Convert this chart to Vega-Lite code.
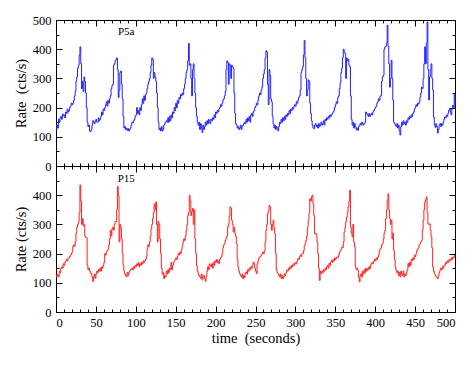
{
"$schema": "https://vega.github.io/schema/vega-lite/v6.json",
"background": "white",
"padding": {"left": 12, "top": 13, "right": 5, "bottom": 5},
"spacing": 0,
"bounds": "flush",
"config": {
 "view": {"stroke": "#000000", "strokeWidth": 1},
 "axis": {"domain": false, "grid": false, "tickColor": "#000000", "tickWidth": 1, "labelColor": "#000000", "titleColor": "#000000", "labelFont": "Liberation Serif", "titleFont": "Liberation Serif", "labelFontSize": 12.5, "titleFontSize": 14.5, "titleFontWeight": "normal"}
},
"data": {"values": [
{"time":0,"P5a":125,"P15":120},{"time":1,"P5a":140,"P15":130},{"time":2,"P5a":130,"P15":125},{"time":3,"P5a":160,"P15":120},{"time":4,"P5a":150,"P15":140},{"time":5,"P5a":165,"P15":135},{"time":6,"P5a":170,"P15":150},{"time":7,"P5a":160,"P15":155},{"time":8,"P5a":178,"P15":150},{"time":9,"P5a":172,"P15":165},
{"time":10,"P5a":175,"P15":160},{"time":11,"P5a":165,"P15":170},{"time":12,"P5a":185,"P15":175},{"time":13,"P5a":180,"P15":180},{"time":14,"P5a":195,"P15":175},{"time":15,"P5a":185,"P15":185},{"time":16,"P5a":190,"P15":185},{"time":17,"P5a":200,"P15":190},{"time":18,"P5a":205,"P15":195},{"time":19,"P5a":215,"P15":200},
{"time":20,"P5a":210,"P15":205},{"time":21,"P5a":215,"P15":225},{"time":22,"P5a":225,"P15":230},{"time":23,"P5a":240,"P15":225},{"time":24,"P5a":255,"P15":240},{"time":25,"P5a":290,"P15":270},{"time":26,"P5a":305,"P15":290},{"time":27,"P5a":335,"P15":300},{"time":28,"P5a":345,"P15":310},{"time":29,"P5a":380,"P15":340},
{"time":30,"P5a":408,"P15":435},{"time":31,"P5a":350,"P15":380},{"time":32,"P5a":265,"P15":300},{"time":33,"P5a":290,"P15":320},{"time":34,"P5a":255,"P15":295},{"time":35,"P5a":305,"P15":300},{"time":36,"P5a":290,"P15":260},{"time":37,"P5a":250,"P15":255},{"time":38,"P5a":200,"P15":255},{"time":39,"P5a":150,"P15":160},
{"time":40,"P5a":135,"P15":145},{"time":41,"P5a":140,"P15":150},{"time":42,"P5a":120,"P15":140},{"time":43,"P5a":118,"P15":135},{"time":44,"P5a":125,"P15":130},{"time":45,"P5a":140,"P15":120},{"time":46,"P5a":155,"P15":105},{"time":47,"P5a":150,"P15":120},{"time":48,"P5a":145,"P15":130},{"time":49,"P5a":155,"P15":115},
{"time":50,"P5a":160,"P15":130},{"time":51,"P5a":150,"P15":140},{"time":52,"P5a":150,"P15":135},{"time":53,"P5a":165,"P15":145},{"time":54,"P5a":155,"P15":140},{"time":55,"P5a":160,"P15":150},{"time":56,"P5a":170,"P15":140},{"time":57,"P5a":185,"P15":155},{"time":58,"P5a":175,"P15":150},{"time":59,"P5a":195,"P15":160},
{"time":60,"P5a":190,"P15":170},{"time":61,"P5a":200,"P15":200},{"time":62,"P5a":210,"P15":195},{"time":63,"P5a":220,"P15":205},{"time":64,"P5a":205,"P15":210},{"time":65,"P5a":225,"P15":215},{"time":66,"P5a":215,"P15":230},{"time":67,"P5a":230,"P15":250},{"time":68,"P5a":240,"P15":280},{"time":69,"P5a":265,"P15":260},
{"time":70,"P5a":275,"P15":285},{"time":71,"P5a":280,"P15":290},{"time":72,"P5a":345,"P15":280},{"time":73,"P5a":350,"P15":300},{"time":74,"P5a":360,"P15":310},{"time":75,"P5a":365,"P15":310},{"time":76,"P5a":370,"P15":350},{"time":77,"P5a":330,"P15":430},{"time":78,"P5a":235,"P15":400},{"time":79,"P5a":260,"P15":240},
{"time":80,"P5a":320,"P15":300},{"time":81,"P5a":325,"P15":290},{"time":82,"P5a":280,"P15":250},{"time":83,"P5a":230,"P15":200},{"time":84,"P5a":170,"P15":160},{"time":85,"P5a":130,"P15":140},{"time":86,"P5a":135,"P15":130},{"time":87,"P5a":125,"P15":125},{"time":88,"P5a":130,"P15":120},{"time":89,"P5a":122,"P15":135},
{"time":90,"P5a":128,"P15":125},{"time":91,"P5a":120,"P15":135},{"time":92,"P5a":125,"P15":140},{"time":93,"P5a":130,"P15":145},{"time":94,"P5a":140,"P15":145},{"time":95,"P5a":150,"P15":150},{"time":96,"P5a":148,"P15":145},{"time":97,"P5a":155,"P15":155},{"time":98,"P5a":160,"P15":150},{"time":99,"P5a":170,"P15":160},
{"time":100,"P5a":175,"P15":155},{"time":101,"P5a":200,"P15":165},{"time":102,"P5a":180,"P15":160},{"time":103,"P5a":190,"P15":170},{"time":104,"P5a":175,"P15":155},{"time":105,"P5a":200,"P15":165},{"time":106,"P5a":190,"P15":160},{"time":107,"P5a":210,"P15":170},{"time":108,"P5a":230,"P15":165},{"time":109,"P5a":215,"P15":175},
{"time":110,"P5a":240,"P15":170},{"time":111,"P5a":225,"P15":175},{"time":112,"P5a":245,"P15":180},{"time":113,"P5a":250,"P15":190},{"time":114,"P5a":265,"P15":215},{"time":115,"P5a":280,"P15":230},{"time":116,"P5a":290,"P15":225},{"time":117,"P5a":300,"P15":240},{"time":118,"P5a":320,"P15":260},{"time":119,"P5a":345,"P15":285},
{"time":120,"P5a":370,"P15":300},{"time":121,"P5a":365,"P15":320},{"time":122,"P5a":300,"P15":340},{"time":123,"P5a":320,"P15":370},{"time":124,"P5a":305,"P15":350},{"time":125,"P5a":290,"P15":377},{"time":126,"P5a":250,"P15":300},{"time":127,"P5a":200,"P15":240},{"time":128,"P5a":150,"P15":310},{"time":129,"P5a":125,"P15":300},
{"time":130,"P5a":130,"P15":250},{"time":131,"P5a":120,"P15":200},{"time":132,"P5a":135,"P15":150},{"time":133,"P5a":120,"P15":130},{"time":134,"P5a":125,"P15":135},{"time":135,"P5a":140,"P15":115},{"time":136,"P5a":145,"P15":125},{"time":137,"P5a":150,"P15":120},{"time":138,"P5a":155,"P15":140},{"time":139,"P5a":150,"P15":130},
{"time":140,"P5a":165,"P15":145},{"time":141,"P5a":150,"P15":135},{"time":142,"P5a":170,"P15":150},{"time":143,"P5a":155,"P15":145},{"time":144,"P5a":175,"P15":170},{"time":145,"P5a":165,"P15":145},{"time":146,"P5a":185,"P15":160},{"time":147,"P5a":180,"P15":170},{"time":148,"P5a":200,"P15":175},{"time":149,"P5a":190,"P15":180},
{"time":150,"P5a":215,"P15":185},{"time":151,"P5a":200,"P15":180},{"time":152,"P5a":225,"P15":190},{"time":153,"P5a":215,"P15":200},{"time":154,"P5a":235,"P15":195},{"time":155,"P5a":230,"P15":205},{"time":156,"P5a":245,"P15":200},{"time":157,"P5a":240,"P15":215},{"time":158,"P5a":250,"P15":225},{"time":159,"P5a":245,"P15":240},
{"time":160,"P5a":265,"P15":250},{"time":161,"P5a":280,"P15":245},{"time":162,"P5a":300,"P15":260},{"time":163,"P5a":320,"P15":280},{"time":164,"P5a":330,"P15":300},{"time":165,"P5a":360,"P15":330},{"time":166,"P5a":420,"P15":340},{"time":167,"P5a":345,"P15":400},{"time":168,"P5a":350,"P15":380},{"time":169,"P5a":300,"P15":330},
{"time":170,"P5a":240,"P15":345},{"time":171,"P5a":330,"P15":355},{"time":172,"P5a":350,"P15":300},{"time":173,"P5a":300,"P15":350},{"time":174,"P5a":250,"P15":250},{"time":175,"P5a":200,"P15":200},{"time":176,"P5a":170,"P15":160},{"time":177,"P5a":150,"P15":140},{"time":178,"P5a":140,"P15":130},{"time":179,"P5a":150,"P15":125},
{"time":180,"P5a":125,"P15":120},{"time":181,"P5a":145,"P15":115},{"time":182,"P5a":130,"P15":130},{"time":183,"P5a":115,"P15":110},{"time":184,"P5a":140,"P15":120},{"time":185,"P5a":125,"P15":125},{"time":186,"P5a":135,"P15":115},{"time":187,"P5a":150,"P15":105},{"time":188,"P5a":140,"P15":120},{"time":189,"P5a":155,"P15":140},
{"time":190,"P5a":145,"P15":155},{"time":191,"P5a":160,"P15":145},{"time":192,"P5a":150,"P15":165},{"time":193,"P5a":145,"P15":160},{"time":194,"P5a":160,"P15":155},{"time":195,"P5a":155,"P15":165},{"time":196,"P5a":165,"P15":150},{"time":197,"P5a":160,"P15":170},{"time":198,"P5a":175,"P15":160},{"time":199,"P5a":165,"P15":175},
{"time":200,"P5a":185,"P15":170},{"time":201,"P5a":180,"P15":180},{"time":202,"P5a":190,"P15":170},{"time":203,"P5a":185,"P15":175},{"time":204,"P5a":195,"P15":165},{"time":205,"P5a":200,"P15":180},{"time":206,"P5a":210,"P15":185},{"time":207,"P5a":205,"P15":190},{"time":208,"P5a":215,"P15":200},{"time":209,"P5a":225,"P15":220},
{"time":210,"P5a":230,"P15":230},{"time":211,"P5a":240,"P15":235},{"time":212,"P5a":255,"P15":245},{"time":213,"P5a":330,"P15":255},{"time":214,"P5a":360,"P15":260},{"time":215,"P5a":355,"P15":290},{"time":216,"P5a":280,"P15":300},{"time":217,"P5a":350,"P15":330},{"time":218,"P5a":345,"P15":360},{"time":219,"P5a":300,"P15":355},
{"time":220,"P5a":345,"P15":314},{"time":221,"P5a":340,"P15":300},{"time":222,"P5a":335,"P15":274},{"time":223,"P5a":250,"P15":290},{"time":224,"P5a":180,"P15":270},{"time":225,"P5a":145,"P15":260},{"time":226,"P5a":140,"P15":234},{"time":227,"P5a":130,"P15":180},{"time":228,"P5a":135,"P15":154},{"time":229,"P5a":125,"P15":140},
{"time":230,"P5a":130,"P15":131},{"time":231,"P5a":140,"P15":125},{"time":232,"P5a":125,"P15":120},{"time":233,"P5a":135,"P15":130},{"time":234,"P5a":140,"P15":114},{"time":235,"P5a":145,"P15":125},{"time":236,"P5a":150,"P15":118},{"time":237,"P5a":145,"P15":135},{"time":238,"P5a":160,"P15":137},{"time":239,"P5a":150,"P15":130},
{"time":240,"P5a":165,"P15":145},{"time":241,"P5a":155,"P15":140},{"time":242,"P5a":170,"P15":150},{"time":243,"P5a":150,"P15":145},{"time":244,"P5a":175,"P15":155},{"time":245,"P5a":180,"P15":150},{"time":246,"P5a":170,"P15":160},{"time":247,"P5a":185,"P15":171},{"time":248,"P5a":190,"P15":165},{"time":249,"P5a":200,"P15":150},
{"time":250,"P5a":205,"P15":140},{"time":251,"P5a":215,"P15":131},{"time":252,"P5a":210,"P15":165},{"time":253,"P5a":225,"P15":175},{"time":254,"P5a":240,"P15":185},{"time":255,"P5a":250,"P15":188},{"time":256,"P5a":245,"P15":190},{"time":257,"P5a":260,"P15":195},{"time":258,"P5a":270,"P15":200},{"time":259,"P5a":300,"P15":205},
{"time":260,"P5a":315,"P15":200},{"time":261,"P5a":330,"P15":210},{"time":262,"P5a":370,"P15":240},{"time":263,"P5a":395,"P15":280},{"time":264,"P5a":390,"P15":300},{"time":265,"P5a":280,"P15":337},{"time":266,"P5a":210,"P15":350},{"time":267,"P5a":330,"P15":365},{"time":268,"P5a":310,"P15":360},{"time":269,"P5a":230,"P15":300},
{"time":270,"P5a":220,"P15":280},{"time":271,"P5a":170,"P15":300},{"time":272,"P5a":145,"P15":314},{"time":273,"P5a":130,"P15":290},{"time":274,"P5a":140,"P15":268},{"time":275,"P5a":125,"P15":200},{"time":276,"P5a":135,"P15":143},{"time":277,"P5a":130,"P15":135},{"time":278,"P5a":120,"P15":131},{"time":279,"P5a":135,"P15":125},
{"time":280,"P5a":150,"P15":120},{"time":281,"P5a":145,"P15":130},{"time":282,"P5a":160,"P15":115},{"time":283,"P5a":150,"P15":125},{"time":284,"P5a":165,"P15":114},{"time":285,"P5a":155,"P15":120},{"time":286,"P5a":170,"P15":130},{"time":287,"P5a":160,"P15":125},{"time":288,"P5a":175,"P15":135},{"time":289,"P5a":170,"P15":143},
{"time":290,"P5a":180,"P15":140},{"time":291,"P5a":175,"P15":150},{"time":292,"P5a":190,"P15":145},{"time":293,"P5a":180,"P15":155},{"time":294,"P5a":195,"P15":150},{"time":295,"P5a":190,"P15":160},{"time":296,"P5a":200,"P15":155},{"time":297,"P5a":195,"P15":165},{"time":298,"P5a":205,"P15":160},{"time":299,"P5a":210,"P15":166},
{"time":300,"P5a":205,"P15":170},{"time":301,"P5a":220,"P15":165},{"time":302,"P5a":215,"P15":175},{"time":303,"P5a":225,"P15":183},{"time":304,"P5a":235,"P15":180},{"time":305,"P5a":240,"P15":190},{"time":306,"P5a":260,"P15":195},{"time":307,"P5a":320,"P15":190},{"time":308,"P5a":330,"P15":200},{"time":309,"P5a":340,"P15":200},
{"time":310,"P5a":380,"P15":210},{"time":311,"P5a":430,"P15":225},{"time":312,"P5a":370,"P15":235},{"time":313,"P5a":300,"P15":245},{"time":314,"P5a":240,"P15":260},{"time":315,"P5a":260,"P15":290},{"time":316,"P5a":295,"P15":314},{"time":317,"P5a":290,"P15":340},{"time":318,"P5a":215,"P15":388},{"time":319,"P5a":180,"P15":380},
{"time":320,"P5a":155,"P15":395},{"time":321,"P5a":140,"P15":400},{"time":322,"P5a":130,"P15":370},{"time":323,"P5a":128,"P15":330},{"time":324,"P5a":140,"P15":268},{"time":325,"P5a":145,"P15":270},{"time":326,"P5a":135,"P15":265},{"time":327,"P5a":140,"P15":240},{"time":328,"P5a":130,"P15":200},{"time":329,"P5a":145,"P15":150},
{"time":330,"P5a":135,"P15":108},{"time":331,"P5a":140,"P15":140},{"time":332,"P5a":150,"P15":131},{"time":333,"P5a":140,"P15":140},{"time":334,"P5a":145,"P15":135},{"time":335,"P5a":155,"P15":145},{"time":336,"P5a":140,"P15":140},{"time":337,"P5a":160,"P15":150},{"time":338,"P5a":155,"P15":145},{"time":339,"P5a":165,"P15":155},
{"time":340,"P5a":160,"P15":160},{"time":341,"P5a":170,"P15":150},{"time":342,"P5a":165,"P15":166},{"time":343,"P5a":175,"P15":160},{"time":344,"P5a":170,"P15":170},{"time":345,"P5a":175,"P15":177},{"time":346,"P5a":180,"P15":170},{"time":347,"P5a":185,"P15":180},{"time":348,"P5a":190,"P15":175},{"time":349,"P5a":200,"P15":185},
{"time":350,"P5a":210,"P15":180},{"time":351,"P5a":220,"P15":188},{"time":352,"P5a":215,"P15":185},{"time":353,"P5a":235,"P15":188},{"time":354,"P5a":240,"P15":195},{"time":355,"P5a":265,"P15":205},{"time":356,"P5a":285,"P15":210},{"time":357,"P5a":320,"P15":215},{"time":358,"P5a":335,"P15":222},{"time":359,"P5a":370,"P15":220},
{"time":360,"P5a":400,"P15":240},{"time":361,"P5a":390,"P15":274},{"time":362,"P5a":385,"P15":290},{"time":363,"P5a":300,"P15":310},{"time":364,"P5a":370,"P15":325},{"time":365,"P5a":360,"P15":340},{"time":366,"P5a":365,"P15":360},{"time":367,"P5a":345,"P15":380},{"time":368,"P5a":340,"P15":417},{"time":369,"P5a":240,"P15":291},
{"time":370,"P5a":160,"P15":270},{"time":371,"P5a":140,"P15":257},{"time":372,"P5a":150,"P15":300},{"time":373,"P5a":130,"P15":240},{"time":374,"P5a":145,"P15":223},{"time":375,"P5a":135,"P15":154},{"time":376,"P5a":125,"P15":145},{"time":377,"P5a":130,"P15":150},{"time":378,"P5a":122,"P15":143},{"time":379,"P5a":135,"P15":120},
{"time":380,"P5a":140,"P15":103},{"time":381,"P5a":145,"P15":125},{"time":382,"P5a":140,"P15":131},{"time":383,"P5a":150,"P15":120},{"time":384,"P5a":145,"P15":140},{"time":385,"P5a":140,"P15":130},{"time":386,"P5a":145,"P15":145},{"time":387,"P5a":150,"P15":135},{"time":388,"P5a":185,"P15":150},{"time":389,"P5a":180,"P15":140},
{"time":390,"P5a":175,"P15":148},{"time":391,"P5a":170,"P15":145},{"time":392,"P5a":180,"P15":155},{"time":393,"P5a":170,"P15":148},{"time":394,"P5a":175,"P15":160},{"time":395,"P5a":180,"P15":166},{"time":396,"P5a":175,"P15":170},{"time":397,"P5a":185,"P15":165},{"time":398,"P5a":190,"P15":175},{"time":399,"P5a":195,"P15":180},
{"time":400,"P5a":200,"P15":175},{"time":401,"P5a":205,"P15":185},{"time":402,"P5a":215,"P15":180},{"time":403,"P5a":220,"P15":188},{"time":404,"P5a":230,"P15":195},{"time":405,"P5a":225,"P15":211},{"time":406,"P5a":240,"P15":215},{"time":407,"P5a":240,"P15":220},{"time":408,"P5a":290,"P15":230},{"time":409,"P5a":305,"P15":234},
{"time":410,"P5a":310,"P15":250},{"time":411,"P5a":400,"P15":270},{"time":412,"P5a":408,"P15":280},{"time":413,"P5a":410,"P15":320},{"time":414,"P5a":420,"P15":348},{"time":415,"P5a":482,"P15":380},{"time":416,"P5a":410,"P15":405},{"time":417,"P5a":350,"P15":350},{"time":418,"P5a":270,"P15":320},{"time":419,"P5a":300,"P15":300},
{"time":420,"P5a":362,"P15":314},{"time":421,"P5a":300,"P15":250},{"time":422,"P5a":226,"P15":270},{"time":423,"P5a":150,"P15":211},{"time":424,"P5a":145,"P15":180},{"time":425,"P5a":140,"P15":154},{"time":426,"P5a":135,"P15":143},{"time":427,"P5a":145,"P15":135},{"time":428,"P5a":130,"P15":140},{"time":429,"P5a":140,"P15":125},
{"time":430,"P5a":120,"P15":135},{"time":431,"P5a":106,"P15":120},{"time":432,"P5a":135,"P15":140},{"time":433,"P5a":150,"P15":130},{"time":434,"P5a":140,"P15":125},{"time":435,"P5a":155,"P15":140},{"time":436,"P5a":145,"P15":120},{"time":437,"P5a":150,"P15":130},{"time":438,"P5a":140,"P15":125},{"time":439,"P5a":155,"P15":135},
{"time":440,"P5a":150,"P15":145},{"time":441,"P5a":165,"P15":166},{"time":442,"P5a":160,"P15":155},{"time":443,"P5a":170,"P15":170},{"time":444,"P5a":165,"P15":160},{"time":445,"P5a":175,"P15":180},{"time":446,"P5a":170,"P15":175},{"time":447,"P5a":180,"P15":185},{"time":448,"P5a":185,"P15":180},{"time":449,"P5a":195,"P15":194},
{"time":450,"P5a":200,"P15":190},{"time":451,"P5a":210,"P15":200},{"time":452,"P5a":205,"P15":211},{"time":453,"P5a":215,"P15":215},{"time":454,"P5a":212,"P15":220},{"time":455,"P5a":220,"P15":230},{"time":456,"P5a":235,"P15":235},{"time":457,"P5a":250,"P15":240},{"time":458,"P5a":270,"P15":245},{"time":459,"P5a":265,"P15":280},
{"time":460,"P5a":300,"P15":314},{"time":461,"P5a":350,"P15":350},{"time":462,"P5a":408,"P15":377},{"time":463,"P5a":350,"P15":385},{"time":464,"P5a":420,"P15":394},{"time":465,"P5a":493,"P15":340},{"time":466,"P5a":330,"P15":302},{"time":467,"P5a":226,"P15":300},{"time":468,"P5a":305,"P15":302},{"time":469,"P5a":330,"P15":280},
{"time":470,"P5a":350,"P15":257},{"time":471,"P5a":300,"P15":220},{"time":472,"P5a":260,"P15":154},{"time":473,"P5a":168,"P15":140},{"time":474,"P5a":140,"P15":131},{"time":475,"P5a":132,"P15":125},{"time":476,"P5a":145,"P15":120},{"time":477,"P5a":135,"P15":118},{"time":478,"P5a":113,"P15":114},{"time":479,"P5a":125,"P15":125},
{"time":480,"P5a":140,"P15":135},{"time":481,"P5a":145,"P15":143},{"time":482,"P5a":135,"P15":150},{"time":483,"P5a":145,"P15":145},{"time":484,"P5a":140,"P15":155},{"time":485,"P5a":150,"P15":150},{"time":486,"P5a":160,"P15":160},{"time":487,"P5a":168,"P15":160},{"time":488,"P5a":165,"P15":170},{"time":489,"P5a":174,"P15":166},
{"time":490,"P5a":170,"P15":175},{"time":491,"P5a":180,"P15":170},{"time":492,"P5a":190,"P15":178},{"time":493,"P5a":196,"P15":180},{"time":494,"P5a":185,"P15":175},{"time":495,"P5a":175,"P15":185},{"time":496,"P5a":195,"P15":180},{"time":497,"P5a":208,"P15":188},{"time":498,"P5a":200,"P15":185},{"time":499,"P5a":248,"P15":194},
{"time":500,"P5a":210,"P15":190}
]},
"vconcat": [
 {
  "width": 399, "height": 146,
  "layer": [
   {"mark": {"type": "line", "color": "#2222ff", "strokeWidth": 1, "interpolate": "step-after"},
    "encoding": {
     "x": {"field": "time", "type": "quantitative", "scale": {"domain": [0, 500], "nice": false}, "axis": {"orient": "bottom", "values": [0,50,100,150,200,250,300,350,400,450,500], "tickSize": -6, "labels": false, "title": null}},
     "y": {"field": "P5a", "type": "quantitative", "scale": {"domain": [0, 500], "nice": false}, "axis": {"orient": "left", "values": [0,100,200,300,400,500], "tickSize": -6, "labelPadding": 11, "title": "Rate \u00a0(cts/s)", "titlePadding": 4}}
    }},
   {"mark": {"type": "point", "opacity": 0},
    "encoding": {
     "x": {"field": "time", "type": "quantitative", "axis": {"orient": "bottom", "values": [0,10,20,30,40,50,60,70,80,90,100,110,120,130,140,150,160,170,180,190,200,210,220,230,240,250,260,270,280,290,300,310,320,330,340,350,360,370,380,390,400,410,420,430,440,450,460,470,480,490,500], "tickSize": -3, "labels": false, "title": null}},
     "y": {"field": "P5a", "type": "quantitative", "axis": {"orient": "left", "values": [50,150,250,350,450], "tickSize": -3, "labels": false, "title": null}}
    }},
   {"mark": {"type": "point", "opacity": 0},
    "encoding": {
     "x": {"field": "time", "type": "quantitative", "axis": {"orient": "top", "values": [0,50,100,150,200,250,300,350,400,450,500], "tickSize": -6, "labels": false, "title": null}},
     "y": {"field": "P5a", "type": "quantitative", "axis": {"orient": "right", "values": [0,100,200,300,400,500], "tickSize": -6, "labels": false, "title": null}}
    }},
   {"mark": {"type": "point", "opacity": 0},
    "encoding": {
     "x": {"field": "time", "type": "quantitative", "axis": {"orient": "top", "values": [0,10,20,30,40,50,60,70,80,90,100,110,120,130,140,150,160,170,180,190,200,210,220,230,240,250,260,270,280,290,300,310,320,330,340,350,360,370,380,390,400,410,420,430,440,450,460,470,480,490,500], "tickSize": -3, "labels": false, "title": null}},
     "y": {"field": "P5a", "type": "quantitative", "axis": {"orient": "right", "values": [50,150,250,350,450], "tickSize": -3, "labels": false, "title": null}}
    }},
   {"data": {"values": [{"label": "P5a"}]},
    "mark": {"type": "text", "font": "Liberation Serif", "fontSize": 11, "color": "#000000"},
    "encoding": {
     "x": {"datum": 88, "type": "quantitative", "axis": null},
     "y": {"datum": 458, "type": "quantitative", "axis": null},
     "text": {"field": "label"}
    }}
  ],
  "resolve": {"axis": {"x": "independent", "y": "independent"}}
 },
 {
  "width": 399, "height": 146,
  "layer": [
   {"mark": {"type": "line", "color": "#ff2222", "strokeWidth": 1, "interpolate": "step-after"},
    "encoding": {
     "x": {"field": "time", "type": "quantitative", "scale": {"domain": [0, 500], "nice": false}, "axis": {"orient": "bottom", "values": [0,50,100,150,200,250,300,350,400,450,500], "tickSize": -6, "labelPadding": 10, "title": "time \u00a0(seconds)", "titlePadding": 3}},
     "y": {"field": "P15", "type": "quantitative", "scale": {"domain": [0, 500], "nice": false}, "axis": {"orient": "left", "values": [0,100,200,300,400], "tickSize": -6, "labelPadding": 11, "title": "Rate (cts/s)", "titlePadding": 4}}
    }},
   {"mark": {"type": "point", "opacity": 0},
    "encoding": {
     "x": {"field": "time", "type": "quantitative", "axis": {"orient": "bottom", "values": [0,10,20,30,40,50,60,70,80,90,100,110,120,130,140,150,160,170,180,190,200,210,220,230,240,250,260,270,280,290,300,310,320,330,340,350,360,370,380,390,400,410,420,430,440,450,460,470,480,490,500], "tickSize": -3, "labels": false, "title": null}},
     "y": {"field": "P15", "type": "quantitative", "axis": {"orient": "left", "values": [50,150,250,350,450], "tickSize": -3, "labels": false, "title": null}}
    }},
   {"mark": {"type": "point", "opacity": 0},
    "encoding": {
     "x": {"field": "time", "type": "quantitative", "axis": {"orient": "top", "values": [0,50,100,150,200,250,300,350,400,450,500], "tickSize": -6, "labels": false, "title": null}},
     "y": {"field": "P15", "type": "quantitative", "axis": {"orient": "right", "values": [0,100,200,300,400,500], "tickSize": -6, "labels": false, "title": null}}
    }},
   {"mark": {"type": "point", "opacity": 0},
    "encoding": {
     "x": {"field": "time", "type": "quantitative", "axis": {"orient": "top", "values": [0,10,20,30,40,50,60,70,80,90,100,110,120,130,140,150,160,170,180,190,200,210,220,230,240,250,260,270,280,290,300,310,320,330,340,350,360,370,380,390,400,410,420,430,440,450,460,470,480,490,500], "tickSize": -3, "labels": false, "title": null}},
     "y": {"field": "P15", "type": "quantitative", "axis": {"orient": "right", "values": [50,150,250,350,450], "tickSize": -3, "labels": false, "title": null}}
    }},
   {"data": {"values": [{"label": "P15"}]},
    "mark": {"type": "text", "font": "Liberation Serif", "fontSize": 11, "color": "#000000"},
    "encoding": {
     "x": {"datum": 88, "type": "quantitative", "axis": null},
     "y": {"datum": 457, "type": "quantitative", "axis": null},
     "text": {"field": "label"}
    }}
  ],
  "resolve": {"axis": {"x": "independent", "y": "independent"}}
 }
]
}
